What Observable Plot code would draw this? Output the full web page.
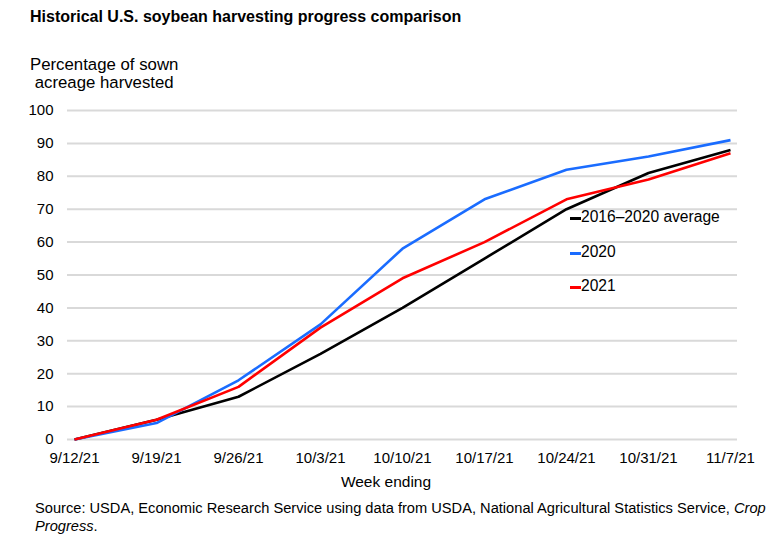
<!DOCTYPE html>
<html>
<head>
<meta charset="utf-8">
<script src="https://cdn.jsdelivr.net/npm/d3@7"></script>
<script src="https://cdn.jsdelivr.net/npm/@observablehq/plot@0.6"></script>
<style>
  html, body { margin: 0; padding: 0; background: #fff; }
  body { width: 768px; height: 548px; position: relative; overflow: hidden;
         font-family: "Liberation Sans", Arial, sans-serif; color: #000; }
  .abs { position: absolute; white-space: nowrap; }
  #title { left: 30px; top: 8px; font-size: 16px; font-weight: bold; }
  #ylabel { left: 30px; top: 56px; font-size: 16.8px; line-height: 18px; }
  #chart { left: 0; top: 100px; }
  #xlabel { left: 386px; top: 473px; font-size: 15.5px; transform: translateX(-50%); }
  #legend { left: 570px; top: 208px; font-size: 15.6px; }
  .item { height: 34.5px; display: flex; align-items: flex-start; }
  .sw { width: 11px; height: 3px; margin-top: 9px; }
  #caption { left: 35px; top: 499px; font-size: 14.65px; line-height: 18px; }
</style>
</head>
<body>
<div id="title" class="abs">Historical U.S. soybean harvesting progress comparison</div>
<div id="ylabel" class="abs">Percentage of sown<br>&nbsp;acreage harvested</div>
<div id="chart" class="abs"></div>
<div id="xlabel" class="abs">Week ending</div>
<div id="legend" class="abs"></div>
<div id="caption" class="abs">Source: USDA, Economic Research Service using data from USDA, National Agricultural Statistics Service, <i>Crop</i><br><i>Progress</i>.</div>
<script>
const weeks = ["9/12/21","9/19/21","9/26/21","10/3/21","10/10/21","10/17/21","10/24/21","10/31/21","11/7/21"];
const seriesNames = ["2016\u20132020 average", "2020", "2021"];
const seriesColors = ["#000000", "#1a6cff", "#ff0000"];
const avg2016_2020 = [0, 6, 13, 26, 40, 55, 70, 81, 88];
const y2020 = [0, 5, 18, 35, 58, 73, 82, 86, 91];
const y2021 = [0, 6, 16, 34, 49, 60, 73, 79, 87];
const yTicks = [0,10,20,30,40,50,60,70,80,90,100];

const valuesBySeries = [avg2016_2020, y2020, y2021];
const data = [];
seriesNames.forEach((s, i) => {
  weeks.forEach((w, j) => data.push({series: s, week: w, value: valuesBySeries[i][j]}));
});

const plot = Plot.plot({
  width: 768,
  height: 395,
  marginTop: 10,
  marginBottom: 56,
  marginLeft: 67,
  marginRight: 31,
  style: {fontFamily: "'Liberation Sans', Arial, sans-serif", fontSize: "15px", color: "#000", background: "transparent"},
  x: {type: "point", domain: weeks, padding: 0, inset: 7},
  y: {domain: [0, 100]},
  color: {domain: seriesNames, range: seriesColors},
  marks: [
    Plot.gridY(yTicks, {stroke: "#d9d9d9", strokeOpacity: 1, strokeWidth: 2}),
    Plot.axisY(yTicks, {tickSize: 0, tickPadding: 14, label: null, fontSize: 15}),
    Plot.axisX({tickSize: 0, tickPadding: 13, fontSize: 15, label: null}),
    Plot.line(data, {x: "week", y: "value", z: "series", stroke: "series", strokeWidth: 2.6, strokeLinejoin: "miter", strokeLinecap: "butt"})
  ]
});
document.getElementById("chart").appendChild(plot);

const legend = document.getElementById("legend");
seriesNames.forEach((s, i) => {
  const item = document.createElement("div");
  item.className = "item";
  const sw = document.createElement("span");
  sw.className = "sw";
  sw.style.background = seriesColors[i];
  const t = document.createElement("span");
  t.textContent = s;
  item.appendChild(sw);
  item.appendChild(t);
  legend.appendChild(item);
});
</script>
</body>
</html>
